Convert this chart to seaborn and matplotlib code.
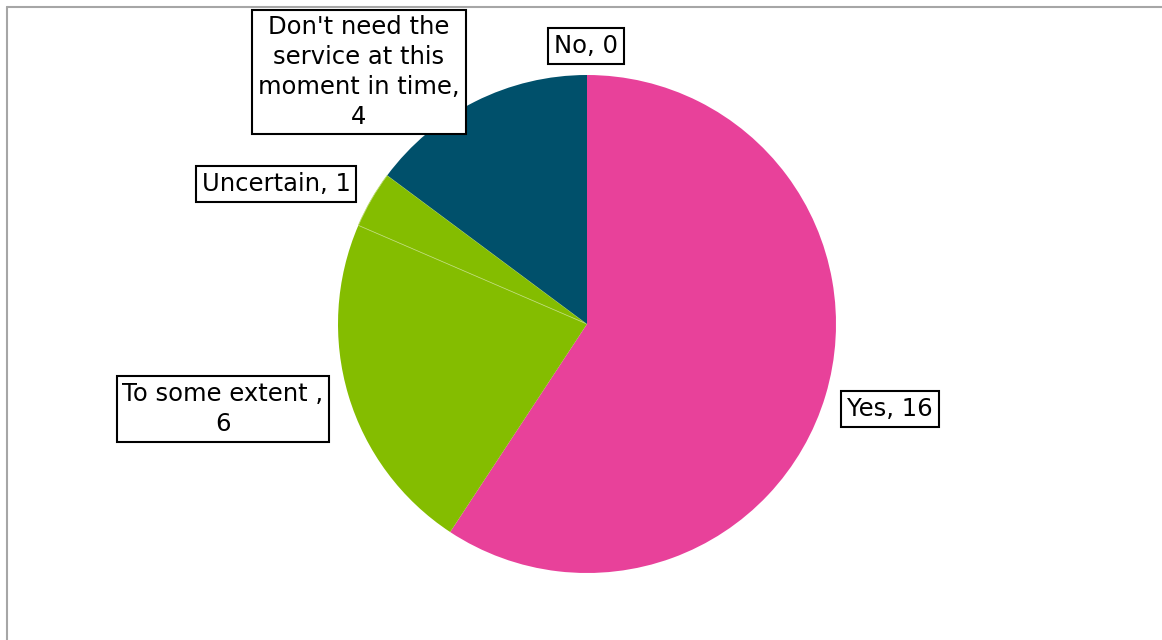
import matplotlib
matplotlib.use("Agg")
import matplotlib.pyplot as plt
from matplotlib.lines import Line2D
import seaborn as sns

# Survey responses
categories = ["Yes", "To some extent ", "Uncertain", "Don't need the\nservice at this\nmoment in time", "No"]
values = [16, 6, 1, 4, 0]
colors = ["#E8419A", "#84BD00", "#84BD00", "#00506B", "#00506B"]

sns.set_theme(style="white")
plt.rcParams["font.family"] = ["DejaVu Sans"]

W, H = 1162, 640
fig = plt.figure(figsize=(W / 100, H / 100), dpi=100)
ax = fig.add_axes([0, 0, 1, 1])

# Pie centre / radius in pixel space, axes expressed in radius units
cx, cy, r = 587, 324, 249
ax.pie(values, colors=colors, startangle=90, counterclock=False,
       radius=1.0, center=(0, 0), frame=False,
       wedgeprops=dict(linewidth=0))
wedges = ax.patches
ax.set_xlim(-cx / r, (W - cx) / r)
ax.set_ylim(-(H - cy) / r, cy / r)
ax.set_aspect("equal")
ax.axis("off")

# faint seam between the two green slices
wedges[2].set_edgecolor("#B9DA6E")
wedges[2].set_linewidth(0.6)

# label anchor points (pixel coordinates of box centres)
label_pos = [(890, 409), (223, 409), (276, 184), (359, 72), (586, 46)]
for name, val, (px, py) in zip(categories, values, label_pos):
    if "\n" in name or name.startswith("To some"):
        txt = f"{name},\n{val}"
    else:
        txt = f"{name}, {val}"
    ax.text((px - cx) / r, (cy - py) / r, txt, ha="center", va="center",
            fontsize=17.5, color="black", linespacing=1.3,
            bbox=dict(boxstyle="square,pad=0.24", fc="white", ec="black", lw=1.5))

# chart-area border (top and left edges visible)
x0 = 7 / W
y0 = 1 - 7 / H
fig.add_artist(Line2D([x0, 1], [y0, y0], transform=fig.transFigure, color="#A6A6A6", lw=1.5))
fig.add_artist(Line2D([x0, x0], [0, y0], transform=fig.transFigure, color="#A6A6A6", lw=1.5))

fig.savefig("out.png", dpi=100, facecolor="white")
